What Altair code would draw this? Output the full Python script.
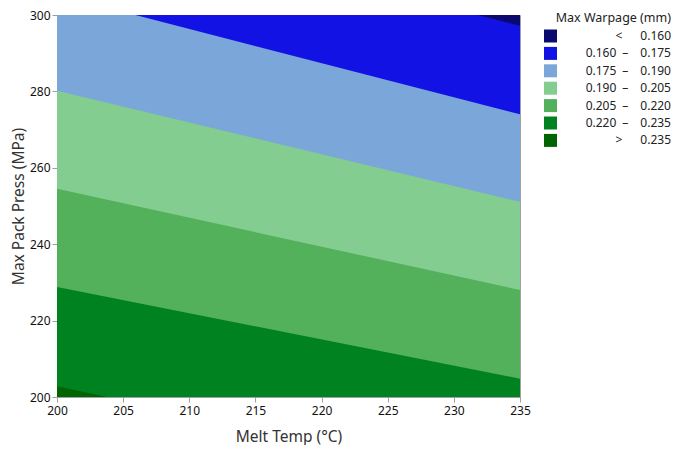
import altair as alt
import pandas as pd

# Contour bands (Max Warpage, mm), drawn bottom to top
bands = ["> 0.235", "0.220 – 0.235", "0.205 – 0.220", "0.190 – 0.205",
         "0.175 – 0.190", "0.160 – 0.175", "< 0.160"]
# Lower boundary of each band (Max Pack Press, MPa) at Melt Temp 200 and 235 °C
lower_at_200 = [200.0, 202.8, 228.8, 254.5, 280.2, 305.3, 327.8]
lower_at_235 = [200.0, 177.0, 204.8, 228.0, 251.1, 274.0, 297.2]
temps = [200, 235]
p_top = 300

legend_order = list(reversed(bands))
legend_colors = ["#0A0A6E", "#1212E4", "#7BA6D9", "#82CD8F", "#53B05B", "#008220", "#006400"]

# Legend label text with column alignment
label_text = {
    "< 0.160": "<\u2002\u2002\u20020.160",
    "0.160 – 0.175": "0.160\u2002–\u2002\u20020.175",
    "0.175 – 0.190": "0.175\u2002–\u2002\u20020.190",
    "0.190 – 0.205": "0.190\u2002–\u2002\u20020.205",
    "0.205 – 0.220": "0.205\u2002–\u2002\u20020.220",
    "0.220 – 0.235": "0.220\u2002–\u2002\u20020.235",
    "> 0.235": ">\u2002\u2002\u20020.235",
}

rows = []
for i, (b, p0, p1) in enumerate(zip(bands, lower_at_200, lower_at_235)):
    rows.append({"band": b, "idx": i, "label": label_text[b], "T": temps[0], "P": p0, "P2": p_top})
    rows.append({"band": b, "idx": i, "label": label_text[b], "T": temps[1], "P": p1, "P2": p_top})
df = pd.DataFrame(rows)

legend_domain = [label_text[b] for b in legend_order]

x_enc = alt.X("T:Q", title="Melt Temp (°C)",
              scale=alt.Scale(domain=[200, 235], nice=False, zero=False),
              axis=alt.Axis(values=list(range(200, 236, 5)), grid=False, tickSize=5,
                            labelPadding=3, titlePadding=13, labelFlush=False))
y_enc = alt.Y("P:Q", title="Max Pack Press (MPa)",
              scale=alt.Scale(domain=[200, 300], nice=False, zero=False),
              axis=alt.Axis(values=list(range(200, 301, 20)), grid=False, tickSize=5,
                            labelPadding=2, titlePadding=3, labelFlush=False))
color_enc = alt.Color("label:N", title="Max Warpage (mm)",
                      scale=alt.Scale(domain=legend_domain, range=legend_colors),
                      legend=alt.Legend(orient="none", legendX=487, legendY=-3,
                                        symbolType="square", symbolSize=169,
                                        symbolStrokeWidth=0, labelAlign="right",
                                        labelOffset=114, labelLimit=300,
                                        rowPadding=4.4, titlePadding=5,
                                        titleAnchor="end", padding=0))

layers = []
for b in bands:
    layers.append(
        alt.Chart(df).transform_filter(alt.datum.band == b)
        .mark_area(clip=True, interpolate="linear", opacity=1)
        .encode(x=x_enc, y=y_enc, y2="P2:Q", color=color_enc)
    )

chart = alt.layer(*layers).properties(
    width=463, height=382,
    padding={"left": 3, "top": 1, "right": 0, "bottom": 0}
).configure_view(
    stroke="#A0A0A0", strokeWidth=1
).configure_axis(
    domainColor="#A0A0A0", tickColor="#A0A0A0", labelColor="#111111",
    labelFont="Noto Sans", labelFontSize=12, titleFont="Noto Sans",
    titleFontSize=15.5, titleFontWeight="normal", titleColor="#333333"
).configure_legend(
    labelFont="Noto Sans", labelFontSize=12, labelColor="#222222",
    titleFont="Noto Sans", titleFontSize=12.5, titleFontWeight="normal",
    titleColor="#222222"
)

chart.save("out.html", embed_options={"renderer": "svg", "actions": False})
